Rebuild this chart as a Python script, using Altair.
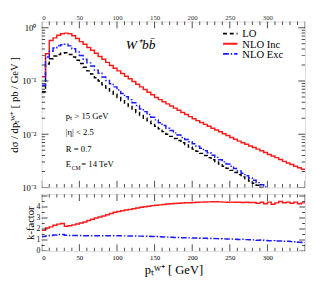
import altair as alt
import pandas as pd

# ---------------- data ----------------
bin_width = 5
series_names = ["LO", "NLO Inc", "NLO Exc"]
series_colors = ["black", "#ff1a1a", "#1a1aff"]

# d sigma / d pt  [pb/GeV], 5 GeV bins starting at 0
lo = [0.063, 0.209, 0.263, 0.295, 0.316, 0.331, 0.339, 0.316, 0.282, 0.245,
      0.214, 0.182, 0.155, 0.135, 0.115, 0.100, 0.0851, 0.0741, 0.0646, 0.0562,
      0.0490, 0.0427, 0.0372, 0.0331, 0.0288, 0.0257, 0.0224, 0.0200, 0.0178, 0.0158,
      0.0141, 0.0126, 0.0112, 0.0100, 0.00912, 0.00832, 0.00759, 0.00692, 0.00631, 0.00575,
      0.00525, 0.00479, 0.00437, 0.00398, 0.00363, 0.00331, 0.00302, 0.00275, 0.00251, 0.00229,
      0.00209, 0.00191, 0.00174, 0.00158, 0.00145, 0.00132, 0.00120, 0.00110, 0.00100, 0.000912,
      0.000832]
nlo_inc = [0.120, 0.324, 0.575, 0.646, 0.724, 0.776, 0.794, 0.776, 0.708, 0.631,
           0.550, 0.490, 0.427, 0.380, 0.331, 0.288, 0.257, 0.224, 0.195, 0.174,
           0.155, 0.138, 0.123, 0.110, 0.0977, 0.0871, 0.0776, 0.0692, 0.0617, 0.0550,
           0.0490, 0.0447, 0.0407, 0.0372, 0.0339, 0.0309, 0.0282, 0.0257, 0.0234, 0.0214,
           0.0195, 0.0180, 0.0166, 0.0153, 0.0141, 0.0130, 0.0120, 0.0111, 0.0102, 0.00944,
           0.00871, 0.00804, 0.00741, 0.00692, 0.00646, 0.00603, 0.00562, 0.00525, 0.00490, 0.00452,
           0.00417, 0.00389, 0.00363, 0.00335, 0.00309, 0.00288, 0.00269, 0.00251, 0.00234, 0.00219]
nlo_exc = [0.0832, 0.282, 0.363, 0.417, 0.457, 0.479, 0.490, 0.457, 0.403, 0.351,
           0.302, 0.257, 0.219, 0.191, 0.160, 0.140, 0.119, 0.102, 0.0891, 0.0776,
           0.0676, 0.0582, 0.0507, 0.0447, 0.0389, 0.0347, 0.0299, 0.0266, 0.0234, 0.0209,
           0.0186, 0.0164, 0.0146, 0.0129, 0.0117, 0.0106, 0.00966, 0.00871, 0.00794, 0.00724,
           0.00661, 0.00596, 0.00543, 0.00490, 0.00447, 0.00403, 0.00367, 0.00331, 0.00302, 0.00275,
           0.00251, 0.00226, 0.00204, 0.00184, 0.00166, 0.00151, 0.00136, 0.00123, 0.00112, 0.00102,
           0.000933]

# k-factors
k_inc = [1.88, 2.10, 2.20, 2.35, 2.45, 2.50, 2.25, 2.30, 2.38, 2.46,
         2.55, 2.65, 2.78, 2.90, 3.00, 3.10, 3.19, 3.30, 3.42, 3.52,
         3.60, 3.67, 3.73, 3.79, 3.85, 3.92, 3.98, 4.03, 4.08, 4.13,
         4.17, 4.20, 4.24, 4.27, 4.30, 4.32, 4.35, 4.37, 4.39, 4.40,
         4.42, 4.43, 4.45, 4.46, 4.47, 4.48, 4.48, 4.47, 4.45, 4.44,
         4.45, 4.43, 4.44, 4.42, 4.43, 4.41, 4.42, 4.35, 4.44, 4.30,
         4.45, 4.25, 4.38, 4.50, 4.40, 4.45, 4.35, 4.45, 4.30, 4.38]
k_exc = [1.33, 1.38, 1.42, 1.47, 1.50, 1.50, 1.44, 1.42, 1.41, 1.41,
         1.41, 1.40, 1.40, 1.40, 1.40, 1.40, 1.40, 1.40, 1.39, 1.39,
         1.39, 1.38, 1.38, 1.37, 1.37, 1.36, 1.36, 1.35, 1.34, 1.33,
         1.32, 1.30, 1.28, 1.27, 1.25, 1.24, 1.23, 1.22, 1.21, 1.20,
         1.19, 1.18, 1.17, 1.16, 1.15, 1.14, 1.13, 1.12, 1.11, 1.10,
         1.09, 1.08, 1.06, 1.07, 1.04, 1.03, 1.02, 0.98, 1.00, 0.96,
         0.94, 0.95, 0.91, 0.92, 0.89, 0.90, 0.86, 0.84, 0.80, 0.78]

x_tick_values = list(range(0, 351, 10))
x_label_values = [0, 50, 100, 150, 200, 250, 300]
log_tick_values = [0.001, 0.002, 0.003, 0.004, 0.005, 0.006, 0.007, 0.008, 0.009,
                   0.01, 0.02, 0.03, 0.04, 0.05, 0.06, 0.07, 0.08, 0.09,
                   0.1, 0.2, 0.3, 0.4, 0.5, 0.6, 0.7, 0.8, 0.9, 1.0]
log_label_values = [0.001, 0.01, 0.1, 1.0]
k_tick_values = [0, 0.5, 1, 1.5, 2, 2.5, 3, 3.5, 4, 4.5, 5]
k_label_values = [0, 1, 2, 3, 4]


def steps(vals, name):
    xs = [i * bin_width for i in range(len(vals))] + [len(vals) * bin_width]
    ys = list(vals) + [vals[-1]]
    return pd.DataFrame({"pt": xs, "y": ys, "series": name})


top_df = pd.concat([steps(lo, "LO"), steps(nlo_inc, "NLO Inc"), steps(nlo_exc, "NLO Exc")])
bot_df = pd.concat([steps(k_inc, "NLO Inc"), steps(k_exc, "NLO Exc")])

# ---------------- layout ----------------
W = 273
H1 = 172
H2 = 59
FONT = "Liberation Serif"
DASHES = [[4, 3], [1, 0], [6, 2, 1.5, 2]]

xscale = alt.Scale(domain=[0, 350], nice=False, zero=False)
yscale_top = alt.Scale(type="log", domain=[0.001, 1.31], nice=False)
yscale_bot = alt.Scale(domain=[0, 5.17], nice=False, zero=False)

x_axis_top = alt.Axis(orient="top", values=x_label_values, ticks=False, tickSize=0, domain=False,
                      grid=False, labelFontSize=7, labelPadding=1, labelFont=FONT,
                      labelColor="#333333", title=None)
log_label_expr = ("datum.value == 1 ? '10⁰' : datum.value == 0.1 ? '10⁻¹' : "
                  "datum.value == 0.01 ? '10⁻²' : '10⁻³'")
y_axis_top = alt.Axis(values=log_label_values, labelExpr=log_label_expr, ticks=False, tickSize=0,
                      domain=False, grid=False, labelFontSize=9, labelFont=FONT,
                      labelColor="black", labelPadding=6,
                      title="dσ / dpₜᵂ⁺   [ pb / GeV ]", titleFont=FONT, titleFontSize=11,
                      titleFontWeight="normal", titlePadding=2, titleColor="black")
x_axis_bot = alt.Axis(values=x_label_values, ticks=False, tickSize=0, domain=False, grid=False,
                      labelFontSize=7, labelPadding=3, labelFont=FONT, labelColor="black",
                      title="pₜᵂ⁺   [ GeV]", titleFont=FONT, titleFontSize=13,
                      titleFontWeight="normal", titlePadding=3, titleColor="black")
y_axis_bot = alt.Axis(values=k_label_values, ticks=False, tickSize=0, domain=False, grid=False,
                      labelFontSize=8, labelFont=FONT, labelColor="black", labelPadding=2,
                      title="k-factor", titleFont=FONT, titleFontSize=11,
                      titleFontWeight="normal", titlePadding=1, titleColor="black")

color_scale = alt.Scale(domain=series_names, range=series_colors)
dash_scale = alt.Scale(domain=series_names, range=DASHES)


def x_ticks(y_pos, axis):
    return alt.Chart(pd.DataFrame({"v": x_tick_values})).transform_calculate(
        len="datum.v % 50 == 0 ? 14 : 7"
    ).mark_tick(orient="vertical", clip=True, color="black", thickness=1).encode(
        x=alt.X("v:Q", scale=xscale, axis=axis),
        y=alt.value(y_pos),
        size=alt.Size("len:Q", scale=None, legend=None),
    )


def y_ticks(values, yscale, x_pos, expr, axis):
    return alt.Chart(pd.DataFrame({"v": values})).transform_calculate(
        len=expr
    ).mark_tick(orient="horizontal", clip=True, color="black", thickness=1).encode(
        y=alt.Y("v:Q", scale=yscale, axis=axis),
        x=alt.value(x_pos),
        size=alt.Size("len:Q", scale=None, legend=None),
    )


log_major = "abs(log(datum.v)/LN10 - round(log(datum.v)/LN10)) < 1e-6 ? 14 : 7"
k_major = "datum.v % 1 == 0 ? 12 : 6"


def txt(s, x, y, size=9, style="normal"):
    return alt.Chart(pd.DataFrame({"t": [s]})).mark_text(
        align="left", baseline="alphabetic", font=FONT, fontSize=size, fontStyle=style, color="black"
    ).encode(text="t:N", x=alt.value(x), y=alt.value(y))


def legend_entry(i, yc):
    sym = alt.Chart(pd.DataFrame({"s": [series_names[i]]})).mark_rule(
        color=series_colors[i], strokeDash=DASHES[i], strokeWidth=2
    ).encode(x=alt.value(188), x2=alt.value(203), y=alt.value(yc))
    return [sym, txt(series_names[i], 208, yc + 4, size=11)]


top_lines = alt.Chart(top_df).mark_line(interpolate="step-after", strokeWidth=1.5, clip=True).encode(
    x=alt.X("pt:Q", scale=xscale, axis=x_axis_top),
    y=alt.Y("y:Q", scale=yscale_top, axis=y_axis_top),
    color=alt.Color("series:N", scale=color_scale, legend=None),
    strokeDash=alt.StrokeDash("series:N", scale=dash_scale, legend=None),
)

top = alt.layer(
    top_lines,
    x_ticks(0, x_axis_top), x_ticks(H1, x_axis_top),
    y_ticks(log_tick_values, yscale_top, 0, log_major, y_axis_top),
    y_ticks(log_tick_values, yscale_top, W, log_major, y_axis_top),
    txt("W⁺bb̄", 87, 28, size=14, style="italic"),
    txt("pₜ > 15 GeV", 25, 101),
    txt("|η| < 2.5", 25, 118),
    txt("R = 0.7", 25, 135),
    txt("E", 25, 151),
    txt("CM", 31, 154, size=6),
    txt("= 14 TeV", 41, 151),
    *legend_entry(0, 12.5),
    *legend_entry(1, 23),
    *legend_entry(2, 33.5),
).properties(width=W, height=H1)

bot_lines = alt.Chart(bot_df).mark_line(interpolate="step-after", strokeWidth=1.5, clip=True).encode(
    x=alt.X("pt:Q", scale=xscale, axis=x_axis_bot),
    y=alt.Y("y:Q", scale=yscale_bot, axis=y_axis_bot),
    color=alt.Color("series:N", scale=color_scale, legend=None),
    strokeDash=alt.StrokeDash("series:N", scale=dash_scale, legend=None),
)

bot = alt.layer(
    bot_lines,
    x_ticks(0, x_axis_bot), x_ticks(H2, x_axis_bot),
    y_ticks(k_tick_values, yscale_bot, 0, k_major, y_axis_bot),
    y_ticks(k_tick_values, yscale_bot, W, k_major, y_axis_bot),
).properties(width=W, height=H2)

chart = alt.vconcat(
    top, bot, spacing=0, padding={"left": 0, "top": 0, "right": 0, "bottom": 0}
).configure_view(
    stroke="black", strokeWidth=1
).configure(background="white")

chart.save("out.html", embed_options={"renderer": "svg", "actions": False})
